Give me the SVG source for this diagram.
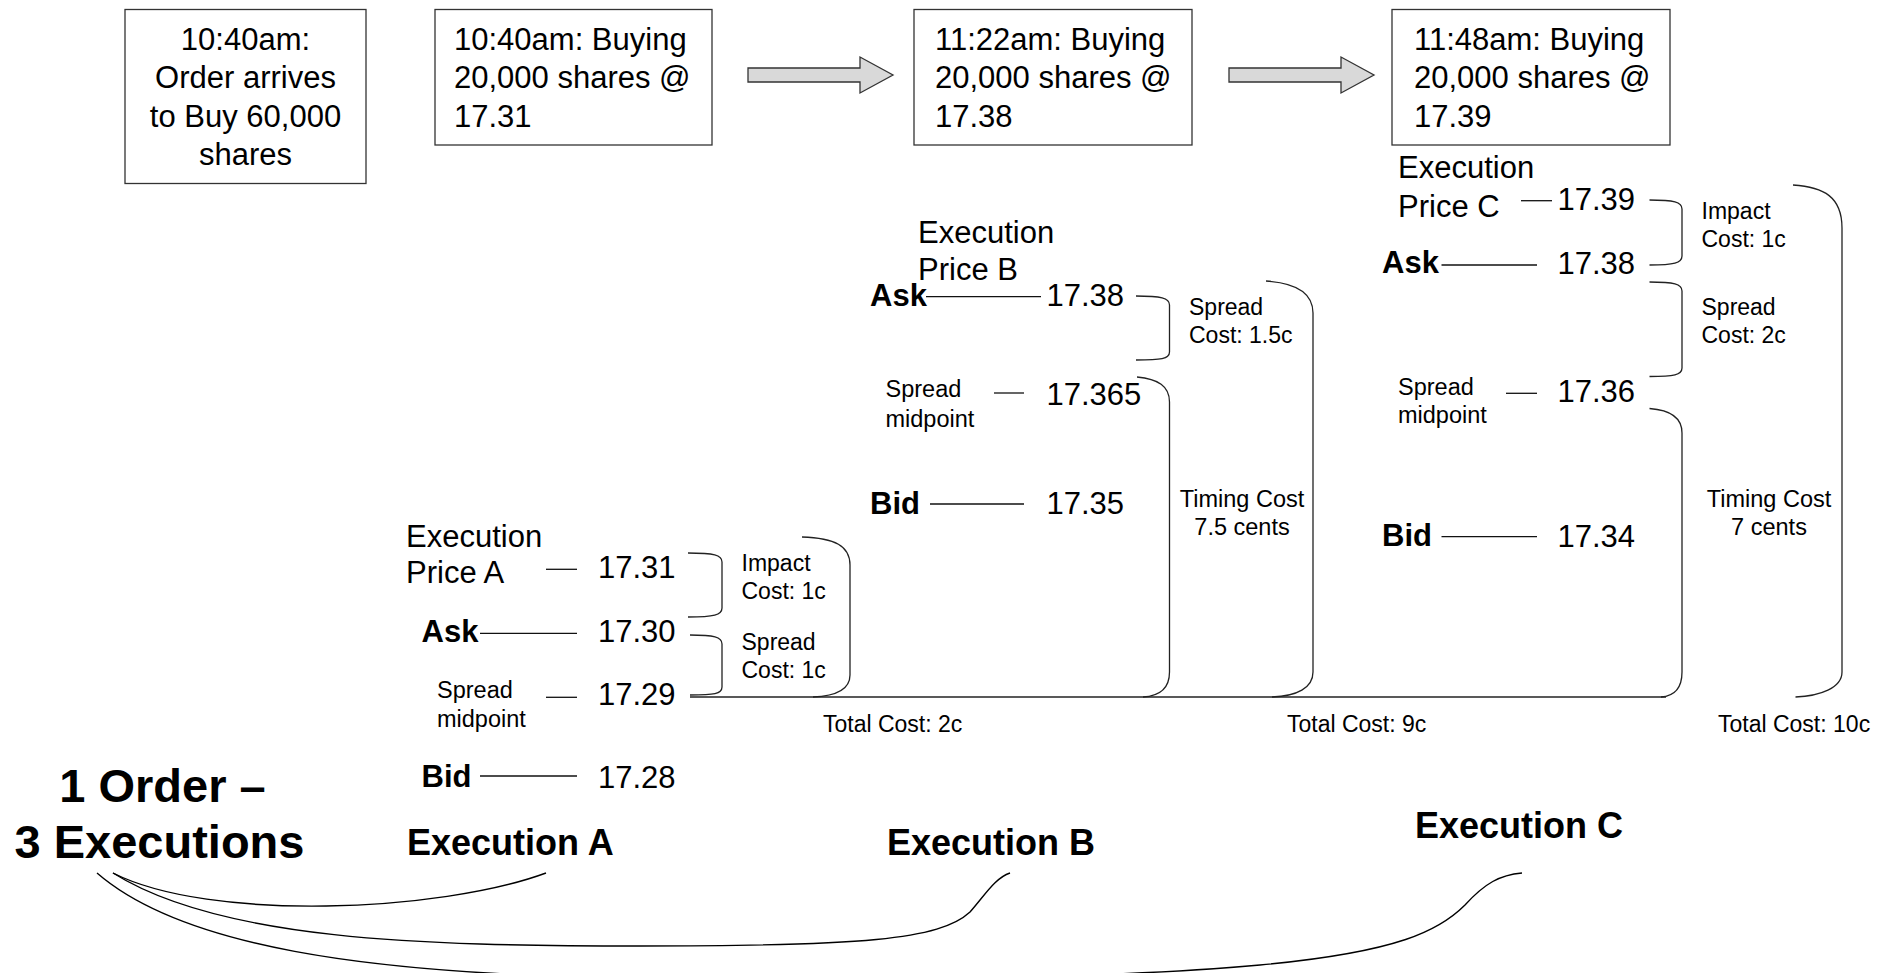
<svg xmlns="http://www.w3.org/2000/svg" width="1893" height="973" viewBox="0 0 1893 973">
<style>
text{font-family:"Liberation Sans",Arial,sans-serif;fill:#000}
.box{fill:#fff;stroke:#333;stroke-width:1.3}
.t31{font-size:31px}
.b31{font-size:31px;font-weight:bold}
.s23{font-size:23.5px}
.c23{font-size:23px}
.big{font-size:47px;font-weight:bold}
.ex{font-size:36px;font-weight:bold}
.ln{stroke:#111;stroke-width:1.3;fill:none}
.br{stroke:#222;stroke-width:1.3;fill:none}
.cv{stroke:#000;stroke-width:1.4;fill:none}
.arr{fill:#d9d9d9;stroke:#333;stroke-width:1.3}
.mid{text-anchor:middle}
</style>
<rect width="1893" height="973" fill="#fff"/>

<g id="box1">
<rect class="box" x="125" y="9.5" width="241" height="174"/>
<text class="t31 mid" x="245.5" y="50">10:40am:</text>
<text class="t31 mid" x="245.5" y="88.3">Order arrives</text>
<text class="t31 mid" x="245.5" y="126.7">to Buy 60,000</text>
<text class="t31 mid" x="245.5" y="165">shares</text>
</g>
<g id="box2">
<rect class="box" x="435" y="9.5" width="277" height="135.5"/>
<text class="t31" x="454" y="50">10:40am: Buying</text>
<text class="t31" x="454" y="88.3">20,000 shares @</text>
<text class="t31" x="454" y="126.7">17.31</text>
</g>
<g id="box3">
<rect class="box" x="914" y="9.5" width="278" height="135.5"/>
<text class="t31" x="935" y="50">11:22am: Buying</text>
<text class="t31" x="935" y="88.3">20,000 shares @</text>
<text class="t31" x="935" y="126.7">17.38</text>
</g>
<g id="box4">
<rect class="box" x="1392" y="9.5" width="278" height="135.5"/>
<text class="t31" x="1414" y="50">11:48am: Buying</text>
<text class="t31" x="1414" y="88.3">20,000 shares @</text>
<text class="t31" x="1414" y="126.7">17.39</text>
</g>

<g id="execution-a">
<text class="t31" x="406" y="546.7">Execution</text>
<text class="t31" x="406" y="583.3">Price A</text>
<line class="ln" x1="546" y1="569.3" x2="577" y2="569.3"/>
<text class="t31" x="598" y="578.3">17.31</text>
<text class="b31" x="421.5" y="641.7">Ask</text>
<line class="ln" x1="480" y1="633.3" x2="577" y2="633.3"/>
<text class="t31" x="598" y="641.7">17.30</text>
<text class="s23" x="437" y="698.3">Spread</text>
<text class="s23" x="437" y="726.7">midpoint</text>
<line class="ln" x1="546" y1="697.3" x2="577" y2="697.3"/>
<text class="t31" x="598" y="705">17.29</text>
<text class="b31" x="421.5" y="787">Bid</text>
<line class="ln" x1="480" y1="776" x2="577" y2="776"/>
<text class="t31" x="598" y="788">17.28</text>
<text class="c23" x="741.5" y="571">Impact</text>
<text class="c23" x="741.5" y="599">Cost: 1c</text>
<text class="c23" x="741.5" y="650">Spread</text>
<text class="c23" x="741.5" y="678">Cost: 1c</text>
<text class="c23" x="823" y="731.5">Total Cost: 2c</text>
</g>

<g id="execution-b">
<text class="t31" x="918" y="243">Execution</text>
<text class="t31" x="918" y="280">Price B</text>
<text class="b31" x="870" y="306">Ask</text>
<line class="ln" x1="926" y1="296.7" x2="1041" y2="296.7"/>
<text class="t31" x="1046.5" y="306">17.38</text>
<text class="s23" x="885.5" y="397">Spread</text>
<text class="s23" x="885.5" y="426.7">midpoint</text>
<line class="ln" x1="994" y1="393" x2="1024" y2="393"/>
<text class="t31" x="1046.5" y="405">17.365</text>
<text class="b31" x="870" y="514">Bid</text>
<line class="ln" x1="930" y1="504" x2="1024" y2="504"/>
<text class="t31" x="1046.5" y="514">17.35</text>
<text class="c23" x="1189" y="315">Spread</text>
<text class="c23" x="1189" y="343">Cost: 1.5c</text>
<text class="s23 mid" x="1242" y="506.7">Timing Cost</text>
<text class="s23 mid" x="1242" y="535">7.5 cents</text>
<text class="c23" x="1287" y="731.5">Total Cost: 9c</text>
</g>

<g id="execution-c">
<text class="t31" x="1398" y="178">Execution</text>
<text class="t31" x="1398" y="217.3">Price C</text>
<line class="ln" x1="1521" y1="200.7" x2="1552" y2="200.7"/>
<text class="t31" x="1557.5" y="210">17.39</text>
<text class="b31" x="1382" y="273.3">Ask</text>
<line class="ln" x1="1441.5" y1="265" x2="1537" y2="265"/>
<text class="t31" x="1557.5" y="274">17.38</text>
<text class="s23" x="1398" y="395">Spread</text>
<text class="s23" x="1398" y="423.3">midpoint</text>
<line class="ln" x1="1506" y1="393.3" x2="1537" y2="393.3"/>
<text class="t31" x="1557.5" y="402">17.36</text>
<text class="b31" x="1382" y="546">Bid</text>
<line class="ln" x1="1441.5" y1="536.7" x2="1537" y2="536.7"/>
<text class="t31" x="1557.5" y="546.7">17.34</text>
<text class="c23" x="1701.5" y="219">Impact</text>
<text class="c23" x="1701.5" y="247.3">Cost: 1c</text>
<text class="c23" x="1701.5" y="315">Spread</text>
<text class="c23" x="1701.5" y="343.3">Cost: 2c</text>
<text class="s23 mid" x="1769" y="506.7">Timing Cost</text>
<text class="s23 mid" x="1769" y="535">7 cents</text>
<text class="c23" x="1718" y="731.5">Total Cost: 10c</text>
</g>

<g id="summary">
<text class="big mid" x="162.5" y="801.7">1 Order –</text>
<text class="big mid" x="159.5" y="858.3">3 Executions</text>
</g>
<g id="label-a"><text class="ex" x="407" y="855">Execution A</text></g>
<g id="label-b"><text class="ex" x="887" y="855">Execution B</text></g>
<g id="label-c"><text class="ex" x="1415" y="838">Execution C</text></g>

<g id="connectors">
<path class="arr" d="M748,68 L860,68 L860,57 L893,75 L860,93 L860,82 L748,82 Z"/>
<path class="arr" d="M1229,68 L1341,68 L1341,57 L1374,75 L1341,93 L1341,82 L1229,82 Z"/>
<path class="br" d="M688,553 C714,553 722,555 722,562 L722,608 C722,615 714,617 688,617"/>
<path class="br" d="M690,635 C714,635 722,637 722,644 L722,687 C722,694 714,695 690,695"/>
<path class="br" d="M802,537 C835,538 850,546 850,565 L850,675 C850,690 836,696 813,697"/>
<path class="br" d="M690,697 L1666,697"/>
<path class="br" d="M1136,296 C1161,296 1169.5,298 1169.5,305 L1169.5,352 C1169.5,359 1161,360 1136,360"/>
<path class="br" d="M1137,377 C1158,379 1169.5,386 1169.5,402 L1169.5,672 C1169.5,688 1160,696 1143,697"/>
<path class="br" d="M1266,281 C1297,283 1313,293 1313,313 L1313,672 C1313,688 1297,696 1272,697"/>
<path class="br" d="M1649.5,200 C1674,200 1682,202 1682,209 L1682,256 C1682,263 1674,265 1649.5,265"/>
<path class="br" d="M1649.5,282 C1674,282 1682,284 1682,291 L1682,368 C1682,375 1674,376.5 1649.5,376.5"/>
<path class="br" d="M1649.5,408.5 C1670,410 1682,417 1682,433 L1682,672 C1682,688 1675,696 1661,697"/>
<path class="br" d="M1793,185 C1824,187 1842,197 1842,228 L1842,672 C1842,688 1820,696 1795.5,697"/>
<path class="cv" d="M113,873 C210,922 440,912 546,873"/>
<path class="cv" d="M113,873 C220,940 420,946 640,946 C860,946 940,940 970,912 C985,895 995,878 1010,873"/>
<path class="cv" d="M97,873 C180,945 360,975 640,978 C900,981 1120,978 1260,965 C1400,952 1440,930 1465,905 C1485,883 1500,875 1522,873"/>
</g>
</svg>
